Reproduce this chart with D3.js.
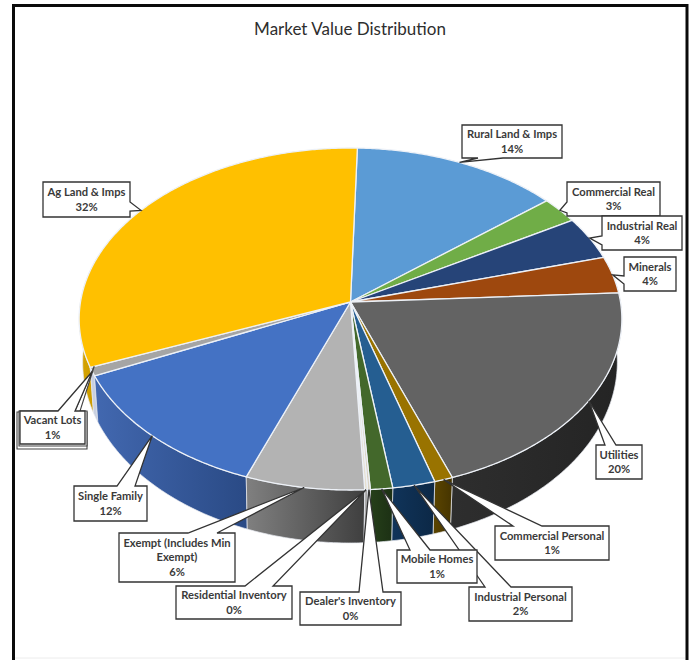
<!DOCTYPE html>
<html><head><meta charset="utf-8">
<script src="https://cdn.jsdelivr.net/npm/d3@7"></script>
<style>html,body{margin:0;padding:0;background:#fff}svg{display:block}</style>
</head><body><svg id="c" width="689" height="660"></svg>
<script>
const title = "Market Value Distribution";
const categories = ["Rural Land & Imps","Commercial Real","Industrial Real","Minerals","Utilities","Commercial Personal","Industrial Personal","Mobile Homes","Dealer's Inventory","Residential Inventory","Exempt (Includes Min Exempt)","Single Family","Vacant Lots","Ag Land & Imps"];
const values = [13.6,2.5,4.1,3.5,20.3,1.0,2.3,1.2,0.15,0.15,6.45,12.45,0.8,31.5];

const topColors = ["#5B9BD5","#70AD47","#264478","#9E480E","#636363","#997300","#255E91","#43682B","#D9D2C0","#E6E0D0","#B3B3B3","#4472C4","#A5A5A5","#FFC000"];
const wallLight = ["#3F6C95","#4E7931","#1A2F54","#6E320A","#2E2E2E","#5C4500","#10345A","#26401A","#BBBBBB","#BBBBBB","#808080","#4268B0","#C8D0E0","#D9A500"];
const wallDark  = ["#3F6C95","#4E7931","#1A2F54","#6E320A","#242424","#453400","#0C2846","#1C3014","#999999","#999999","#3F3F3F","#2A4A85","#C8D0E0","#C29600"];

/* callout layout: box x, y, w, h, edge carrying the tail, tail base a..b along that edge */
const calloutLayout = [
  {x:462,y:125,w:100,h:33,edge:"bottom",a:478,b:503,lines:["Rural Land & Imps"]},
  {x:567,y:182,w:93,h:34,edge:"left",a:202,b:213,lines:["Commercial Real"]},
  {x:602,y:216,w:80,h:34,edge:"left",a:236,b:245,lines:["Industrial Real"]},
  {x:624,y:257,w:52,h:34,edge:"left",a:276,b:284,lines:["Minerals"]},
  {x:596,y:445,w:46,h:34,edge:"top",a:605,b:616,lines:["Utilities"]},
  {x:495,y:526,w:114,h:34,edge:"top",a:513,b:542,lines:["Commercial Personal"]},
  {x:469,y:587,w:103,h:34,edge:"top",a:485,b:511,lines:["Industrial Personal"]},
  {x:397,y:550,w:80,h:33,edge:"top",a:410,b:430,lines:["Mobile Homes"]},
  {x:300,y:592,w:101,h:33,edge:"top",a:359,b:383,lines:["Dealer's Inventory"]},
  {x:176,y:586,w:116,h:33,edge:"top",a:245,b:273,lines:["Residential Inventory"]},
  {x:119,y:533,w:116,h:49,edge:"top",a:188,b:217,lines:["Exempt (Includes Min","Exempt)"]},
  {x:74,y:486,w:73,h:35,edge:"top",a:117,b:135,lines:["Single Family"]},
  {x:20,y:411,w:65,h:33,edge:"top",a:58,b:75,lines:["Vacant Lots"],ghost:true},
  {x:43,y:182,w:87,h:35,edge:"right",a:202,b:211,lines:["Ag Land & Imps"]}
];

const svg = d3.select("#c");
const k = 0.0994;
const topRing = {cx:350.5, cy:302, rx:270, ry:169.3};
const baseRing = {cx:350, cy:344, rx:266, ry:179.2};
const project = (ring,t,r=1) => {
  const u = r*Math.sin(t), v = -r*Math.cos(t), w = 1 - k*v;
  return [ring.cx + ring.rx*u/w, ring.cy + ring.ry*v/w];
};
const rad = d => d*Math.PI/180;
const rotation = rad(1.6);
const arcs = d3.pie().sort(null).value(d=>d).startAngle(rotation).endAngle(rotation+2*Math.PI)(values);
const sample = (a,b,step=rad(0.5)) => {
  const n = Math.max(2,Math.ceil(Math.abs(b-a)/step));
  return d3.range(n+1).map(i=>a+(b-a)*i/n);
};
const line = d3.line();

/* frame */
svg.append("path").attr("d",line([[13.5,662],[13.5,5.5],[687,5.5],[687,662]]))
  .attr("fill","none").attr("stroke","#0a0a0a").attr("stroke-width",3);
svg.append("line").attr("x1",15).attr("x2",685).attr("y1",658).attr("y2",658).attr("stroke","#ececec");

svg.append("text").attr("x",350).attr("y",35).attr("text-anchor","middle")
  .attr("font-family","Lato, 'Open Sans', sans-serif").attr("font-size",17).attr("fill","#2e2e2e").text(title);

/* gradients and side walls */
const defs = svg.append("defs");
const visLo = rad(80), visHi = rad(286);
const walls = arcs.map((d,i)=>({d,i,a:Math.max(d.startAngle,visLo),b:Math.min(d.endAngle,visHi)})).filter(s=>s.b>s.a);
walls.sort((p,q)=>Math.abs(Math.PI-(q.a+q.b)/2)-Math.abs(Math.PI-(p.a+p.b)/2));
walls.forEach(s=>{
  const ts = sample(s.a,s.b);
  const up = ts.map(t=>project(topRing,t));
  const dn = ts.map(t=>project(baseRing,t)).reverse();
  const xs = d3.extent(up.concat(dn),p=>p[0]);
  const id = "w"+s.i;
  const g = defs.append("linearGradient").attr("id",id).attr("gradientUnits","userSpaceOnUse")
    .attr("x1",xs[0]).attr("x2",xs[1]).attr("y1",0).attr("y2",0);
  g.append("stop").attr("offset",0).attr("stop-color",wallLight[s.i]);
  g.append("stop").attr("offset",1).attr("stop-color",wallDark[s.i]);
  svg.append("path").attr("d",line(up.concat(dn))+"Z").attr("fill",`url(#${id})`)
    .attr("stroke","#e4e8ee").attr("stroke-width",0.9).attr("stroke-opacity",0.8);
});

/* top face */
arcs.forEach((d,i)=>{
  const pts = [[topRing.cx,topRing.cy]].concat(sample(d.startAngle,d.endAngle).map(t=>project(topRing,t)));
  svg.append("path").attr("d",line(pts)+"Z").attr("fill",topColors[i])
    .attr("stroke","#EDF1F7").attr("stroke-width",1.3).attr("stroke-linejoin","round");
});

/* callouts */
const callout = (b,tip) => {
  const x0=b.x,y0=b.y,x1=b.x+b.w,y1=b.y+b.h,p=[];
  p.push([x0,y0]);
  if(b.edge==="top"&&tip){p.push([b.a,y0],tip,[b.b,y0]);}
  p.push([x1,y0]);
  if(b.edge==="right"&&tip){p.push([x1,b.a],tip,[x1,b.b]);}
  p.push([x1,y1]);
  if(b.edge==="bottom"&&tip){p.push([b.b,y1],tip,[b.a,y1]);}
  p.push([x0,y1]);
  if(b.edge==="left"&&tip){p.push([x0,b.b],tip,[x0,b.a]);}
  return line(p)+"Z";
};
const pctText = v => Math.round(v)+"%";
arcs.forEach((d,i)=>{
  const b = calloutLayout[i];
  const tip = project(topRing,(d.startAngle+d.endAngle)/2);
  const g = svg.append("g");
  if(b.ghost){
    g.append("path").attr("d",callout({x:b.x-3,y:b.y+1,w:b.w+5,h:b.h+4})).attr("fill","#fff").attr("stroke","#444").attr("stroke-width",1.1);
    g.append("path").attr("d",callout({x:b.x-1,y:b.y,w:b.w+3,h:b.h+2,edge:b.edge,a:b.b,b:b.b+5},project(topRing,d.endAngle,0.985))).attr("fill","#fff").attr("stroke","#444").attr("stroke-width",1.1);
  }
  g.append("path").attr("d",callout(b,tip)).attr("fill","#fff").attr("stroke","#333")
    .attr("stroke-width",1.3).attr("stroke-linejoin","miter");
  const lines = b.lines.concat([pctText(values[i])]);
  const mid = b.y+b.h/2;
  lines.forEach((t,j)=>{
    g.append("text").attr("x",b.x+b.w/2).attr("y",mid+(j-(lines.length-1)/2)*14.5+3.8)
      .attr("text-anchor","middle").attr("font-family","Lato, 'Open Sans', sans-serif")
      .attr("font-weight",700).attr("font-size",11.2).attr("fill","#3a3a3a").text(t);
  });
});
</script></body></html>
